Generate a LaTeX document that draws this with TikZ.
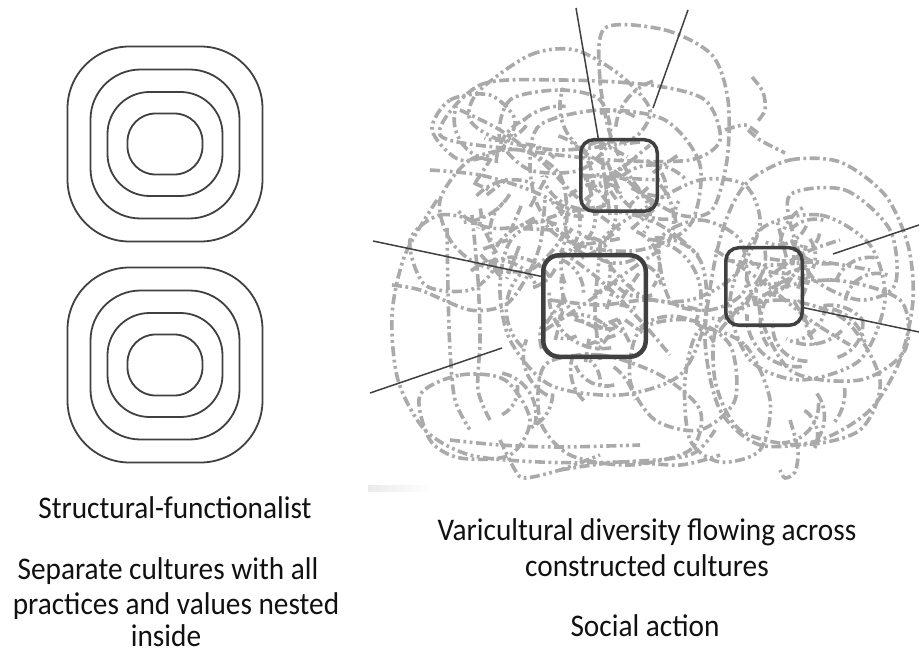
\documentclass[tikz,border=0pt]{standalone}
\usepackage{fontspec}
\setmainfont{Carlito}
\newfontfamily\lblfont{Carlito}[FakeStretch=0.93]
\definecolor{cloudgray}{RGB}{170,170,170}
\definecolor{ink}{RGB}{64,64,64}
\definecolor{txt}{RGB}{17,17,17}
\tikzset{
  sq/.style={draw=ink, line width=1.8pt},
  boxnode/.style={draw=ink, rectangle, rounded corners=13pt, line width=3.5pt, inner sep=0pt},
  lead/.style={draw=ink, line width=1.5pt},
  cl/.style={draw=cloudgray, line width=3.6pt, dash pattern=on 10pt off 3.5pt on 2.8pt off 3.5pt},
  cld/.style={draw=cloudgray, line width=3.6pt, dash pattern=on 10pt off 3.5pt on 2.8pt off 3.5pt on 2.8pt off 3.5pt},
  lbl/.style={font=\lblfont\fontsize{31.5}{36}\selectfont, text=txt, anchor=base, inner sep=0pt},
}
\begin{document}
\begin{tikzpicture}[x=1pt,y=-1pt]
\useasboundingbox (0,0) rectangle (919,655);

% ---- left: nested squircles ----
\foreach \cy in {144,365}{
  \draw[sq, rounded corners=62pt] ({165-97.5},{\cy-97.5}) rectangle ({165+97.5},{\cy+97.5});
  \draw[sq, rounded corners=50pt] ({165-74.5},{\cy-74.5}) rectangle ({165+74.5},{\cy+74.5});
  \draw[sq, rounded corners=42pt] ({165-57.5},{\cy-52}) rectangle ({165+57.5},{\cy+52});
  \draw[sq, rounded corners=28pt] ({165-37.5},{\cy-30.5}) rectangle ({165+37.5},{\cy+30.5});
}

% ---- right: tangled dash-dot cloud ----
\draw[cl]  plot[smooth cycle] coordinates {(605,28) (665,30) (712,55) (728,100) (727,160) (712,210) (680,215) (640,190) (612,140) (600,80)};
\draw[cld] plot[smooth cycle] coordinates {(478,92) (530,55) (575,50) (620,75) (650,110) (630,140) (560,150) (500,140) (470,120)};
\draw[cl]  plot[smooth cycle] coordinates {(440,135) (480,85) (560,80) (650,85) (705,100) (720,140) (690,160) (610,160) (520,150)};
\draw[cld] plot[smooth cycle] coordinates {(432,130) (450,100) (490,95) (515,120) (500,150) (460,160)};
\draw[cl]  plot[smooth cycle] coordinates {(440,200) (470,160) (520,150) (560,175) (565,230) (530,270) (480,265) (450,240)};
\draw[cld] plot[smooth] coordinates {(437,200) (405,255) (392,315) (398,380) (425,430) (470,455) (540,462) (620,462) (690,455) (715,430)};
\draw[cl]  plot[smooth] coordinates {(392,285) (420,290) (470,310) (505,305) (525,280) (540,245) (545,200)};
\draw[cld] plot[smooth] coordinates {(447,228) (448,290) (450,350) (455,400) (470,430)};
\draw[cl]  plot[smooth] coordinates {(472,215) (478,280) (480,340) (478,390) (490,420)};
\draw[cl]  plot[smooth cycle] coordinates {(420,395) (460,375) (505,380) (530,420) (510,455) (460,458) (430,440)};
\draw[cld] plot[smooth cycle] coordinates {(515,235) (580,210) (650,220) (700,260) (705,320) (680,375) (620,395) (550,385) (510,340) (500,285)};
\draw[cl]  plot[smooth cycle] coordinates {(545,365) (600,355) (660,375) (700,410) (690,450) (630,465) (570,455) (540,420)};
\draw[cld] plot[smooth] coordinates {(500,440) (515,470) (525,478) (560,470) (600,455)};
\draw[cl]  plot[smooth cycle] coordinates {(540,125) (600,110) (665,120) (700,165) (690,225) (640,250) (580,245) (540,210) (530,165)};
\draw[cld] plot[smooth cycle] coordinates {(600,245) (650,205) (700,180) (745,185) (760,225) (735,275) (690,300) (640,295)};
\draw[cl]  plot[smooth] coordinates {(752,77) (763,92) (765,110) (757,122)};
\draw[cl]  plot[smooth] coordinates {(748,130) (760,140) (775,148) (785,153)};
\draw[cld] plot[smooth] coordinates {(725,130) (745,125) (760,135)};
\draw[cl]  plot[smooth] coordinates {(460,110) (500,130) (540,160) (580,200) (620,230)};
\draw[cld] plot[smooth] coordinates {(430,170) (480,175) (530,190) (570,210)};
\draw[cl]  plot[smooth cycle] coordinates {(510,100) (560,90) (600,100) (610,140) (580,170) (530,170) (500,140)};
\draw[cld] plot[smooth cycle] coordinates {(410,240) (440,215) (480,225) (495,265) (470,290) (425,285)};
\draw[cl]  plot[smooth cycle] coordinates {(640,330) (690,320) (730,345) (735,400) (700,430) (655,420) (630,380)};
\draw[cld] plot[smooth cycle] coordinates {(660,240) (700,220) (740,240) (745,290) (710,310) (670,300)};
\draw[cl]  plot[smooth] coordinates {(560,470) (620,462) (680,465) (720,455)};
\draw[cld] plot[smooth] coordinates {(450,440) (500,445) (560,447) (640,445)};
\draw[cl]  plot[smooth] coordinates {(560,250) (600,280) (640,320) (670,355)};
\draw[cld] plot[smooth] coordinates {(545,330) (590,300) (630,270) (660,250)};
\draw[cl]  plot[smooth] coordinates {(550,300) (600,305) (650,300) (700,310)};
\draw[cld] plot[smooth] coordinates {(600,250) (595,310) (600,360)};
\draw[cl]  plot[smooth] coordinates {(580,150) (620,175) (655,205)};
\draw[cld] plot[smooth] coordinates {(585,200) (620,170) (650,145)};
\draw[cl]  plot[smooth] coordinates {(600,140) (605,180) (610,215)};
\draw[cld] plot[smooth] coordinates {(580,175) (620,178) (660,180)};
% right lobe
\draw[cl]  plot[smooth cycle] coordinates {(750,180) (790,160) (840,162) (885,195) (908,245) (913,300) (900,360) (870,410) (820,440) (760,445) (720,410) (705,340) (715,260) (730,210)};
\draw[cld] plot[smooth cycle] coordinates {(760,230) (820,215) (870,245) (885,300) (860,360) (800,380) (750,360) (730,300)};
\draw[cl]  plot[smooth cycle] coordinates {(720,320) (780,300) (845,320) (880,380) (860,430) (800,445) (740,430) (715,380)};
\draw[cld] plot[smooth cycle] coordinates {(790,195) (845,190) (890,230) (895,285) (860,300) (815,280) (795,240)};
\draw[cl]  plot[smooth] coordinates {(790,420) (798,450) (795,472) (785,478) (780,470)};
\draw[cld] plot[smooth cycle] coordinates {(700,330) (745,345) (770,400) (760,450) (720,462) (690,440) (685,380)};
\draw[cl]  plot[smooth cycle] coordinates {(760,300) (830,280) (900,300) (905,350) (860,380) (790,370)};
\draw[cld] plot[smooth] coordinates {(715,250) (760,280) (810,320) (850,345)};
\draw[cl]  plot[smooth] coordinates {(720,330) (760,285) (800,255) (840,240)};
\draw[cld] plot[smooth] coordinates {(725,260) (770,265) (820,262) (870,270)};

% dense tangle: arcs and strokes (deterministic seed)
\pgfmathsetseed{4711}
\foreach \i in {1,...,60}{
  \pgfmathsetmacro{\ang}{360*rnd}
  \pgfmathsetmacro{\rad}{sqrt(rnd)}
  \pgfmathsetmacro{\px}{565+115*\rad*cos(\ang)}
  \pgfmathsetmacro{\py}{255+150*\rad*sin(\ang)}
  \pgfmathsetmacro{\sa}{360*rnd}
  \pgfmathsetmacro{\sw}{40+70*rnd}
  \pgfmathsetmacro{\rr}{25+35*rnd}
  \pgfmathtruncatemacro{\st}{mod(\i,2)}
  \ifnum\st=0
    \draw[cl] (\px,\py) arc[start angle=\sa, end angle=\sa+\sw, radius=\rr];
  \else
    \draw[cld] (\px,\py) arc[start angle=\sa, end angle=\sa+\sw, radius=\rr];
  \fi
}
\foreach \i in {1,...,28}{
  \pgfmathsetmacro{\ang}{360*rnd}
  \pgfmathsetmacro{\rad}{sqrt(rnd)}
  \pgfmathsetmacro{\px}{805+60*\rad*cos(\ang)}
  \pgfmathsetmacro{\py}{320+100*\rad*sin(\ang)}
  \pgfmathsetmacro{\sa}{360*rnd}
  \pgfmathsetmacro{\sw}{40+70*rnd}
  \pgfmathsetmacro{\rr}{22+30*rnd}
  \pgfmathtruncatemacro{\st}{mod(\i,2)}
  \ifnum\st=0
    \draw[cl] (\px,\py) arc[start angle=\sa, end angle=\sa+\sw, radius=\rr];
  \else
    \draw[cld] (\px,\py) arc[start angle=\sa, end angle=\sa+\sw, radius=\rr];
  \fi
}
\foreach \cx/\cy/\n in {619/175/12, 594/306/16, 764/286/12, 500/220/10}{
  \foreach \j in {1,...,\n}{
    \pgfmathsetmacro{\px}{\cx-38+76*rnd}
    \pgfmathsetmacro{\py}{\cy-38+76*rnd}
    \pgfmathsetmacro{\dir}{360*rnd}
    \pgfmathsetmacro{\len}{16+22*rnd}
    \draw[cl] (\px,\py) -- ++(\dir:\len);
  }
}

% faint smear
\shade[left color=black!8, right color=white] (368,485) rectangle (432,491);

% ---- dark boxes ----
\node[boxnode, minimum width=76.5pt, minimum height=71.5pt] (tb) at (619,175.5) {};
\node[boxnode, line width=4.5pt, rounded corners=16pt, minimum width=102.5pt, minimum height=101.5pt] (bb) at (594.5,306) {};
\node[boxnode, minimum width=76.5pt, minimum height=77.5pt] (rb) at (764,286.5) {};

% ---- leader lines ----
\coordinate (e1) at (576,8);
\coordinate (e2a) at (688,10);
\coordinate (e2b) at (653,108);
\coordinate (e3) at (373,241);
\coordinate (e4a) at (370,393);
\coordinate (e4b) at (502,348);
\coordinate (e5a) at (919,225);
\coordinate (e5b) at (833,254);
\coordinate (e6) at (919,332);
\draw[lead] (e1) -- (tb.119);
\draw[lead] (e2a) -- (e2b);
\draw[lead] (e3) -- (bb.151);
\draw[lead] (e4a) -- (e4b);
\draw[lead] (e5a) -- (e5b);
\draw[lead] (rb.-28) -- (e6);

% ---- labels ----
\node[lbl] (t1) at (175,518) {Structural-functionalist};
\node[lbl] (t2) at (168,579) {Separate cultures with all};
\node[lbl] (t3) at (176,614) {practices and values nested};
\node[lbl] (t4) at (166,646) {inside};
\node[lbl] (r1) at (647,540) {Varicultural diversity flowing across};
\node[lbl] (r2) at (647,576) {constructed cultures};
\node[lbl] (r3) at (645,636) {Social action};
\end{tikzpicture}
\end{document}
